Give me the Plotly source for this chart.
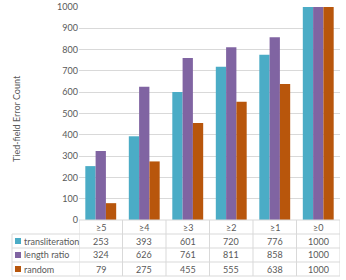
import plotly.graph_objects as go

categories = ["≥5", "≥4", "≥3", "≥2", "≥1", "≥0"]
series_names = ["transliteration", "length ratio", "random"]
transliteration = [253, 393, 601, 720, 776, 1000]
length_ratio = [324, 626, 761, 811, 858, 1000]
random_vals = [79, 275, 455, 555, 638, 1000]
colors = ["#4BACC6", "#8064A2", "#B8560C"]
y_ticks = [0, 100, 200, 300, 400, 500, 600, 700, 800, 900, 1000]

W, H = 346, 280
L, R, T, B = 79, 6, 7, 60
PW = W - L - R
PH = H - T - B

series = [transliteration, length_ratio, random_vals]
xs = list(range(len(categories)))

fig = go.Figure()
for name, vals, c in zip(series_names, series, colors):
    fig.add_trace(go.Bar(x=xs, y=vals, name=name, marker=dict(color=c, line=dict(width=0))))

font = "Lato, 'Open Sans', sans-serif"
txt = "#595959"
grid = "#D9D9D9"

def py(px):
    return (H - B - px) / PH

def pxx(px):
    return (px - L) / PW

shapes = []
annotations = []
row_bounds = [220, 234, 248, 262, 276]
row_y = [py(p) for p in row_bounds]
left_paper = pxx(12)
for i, yv in enumerate(row_y):
    x0 = 0 if i == 0 else left_paper
    shapes.append(dict(type="line", xref="paper", yref="paper", x0=x0, x1=1, y0=yv, y1=yv,
                       line=dict(color=grid, width=1)))
for k in range(len(categories) + 1):
    shapes.append(dict(type="line", xref="x", yref="paper", x0=k - 0.5, x1=k - 0.5,
                       y0=row_y[0], y1=row_y[-1], line=dict(color=grid, width=1)))
shapes.append(dict(type="line", xref="paper", yref="paper", x0=left_paper, x1=left_paper,
                   y0=row_y[1], y1=row_y[-1], line=dict(color=grid, width=1)))

for k, cat in enumerate(categories):
    annotations.append(dict(x=k, y=(row_y[0] + row_y[1]) / 2, xref="x", yref="paper",
                            text=cat, showarrow=False, yanchor="middle",
                            font=dict(size=9, color=txt, family=font)))
for r, (name, vals, c) in enumerate(zip(series_names, series, colors)):
    yc = (row_y[r + 1] + row_y[r + 2]) / 2
    sq_x = pxx(15)
    sq_w = 6 / PW
    sq_h = 6 / PH
    shapes.append(dict(type="rect", xref="paper", yref="paper", x0=sq_x, x1=sq_x + sq_w,
                       y0=yc - sq_h / 2, y1=yc + sq_h / 2, fillcolor=c, line=dict(width=0)))
    annotations.append(dict(x=pxx(22), y=yc, xref="paper", yref="paper",
                            text=name, showarrow=False, xanchor="left", yanchor="middle",
                            font=dict(size=9, color=txt, family=font)))
    for k, v in enumerate(vals):
        annotations.append(dict(x=k, y=yc, xref="x", yref="paper", text=str(v), showarrow=False,
                                yanchor="middle", font=dict(size=9, color=txt, family=font)))

annotations.append(dict(x=pxx(16), y=py(119), xref="paper", yref="paper",
                        text="Tied-field Error Count", textangle=-90, showarrow=False,
                        xanchor="center", yanchor="middle",
                        font=dict(size=9, color=txt, family=font)))

fig.update_layout(
    width=W, height=H,
    margin=dict(l=L, r=R, t=T, b=B, autoexpand=False),
    paper_bgcolor="white", plot_bgcolor="white",
    barmode="group", bargap=0.29, bargroupgap=0,
    showlegend=False,
    font=dict(family=font, size=9, color=txt),
    xaxis=dict(range=[-0.5, len(categories) - 0.5], showticklabels=False, showgrid=False,
               zeroline=False, showline=False, ticks="", automargin=False),
    yaxis=dict(range=[0, 1000], tickvals=y_ticks, showgrid=True, gridcolor=grid, gridwidth=1,
               zeroline=False, showline=False, ticks="", ticklen=0, automargin=False,
               tickfont=dict(size=9, color=txt, family=font)),
    shapes=shapes,
    annotations=annotations,
)
fig.write_html("out.html", config={"displayModeBar": False},
               post_script="document.body.style.margin='0';document.body.style.overflow='hidden';")
